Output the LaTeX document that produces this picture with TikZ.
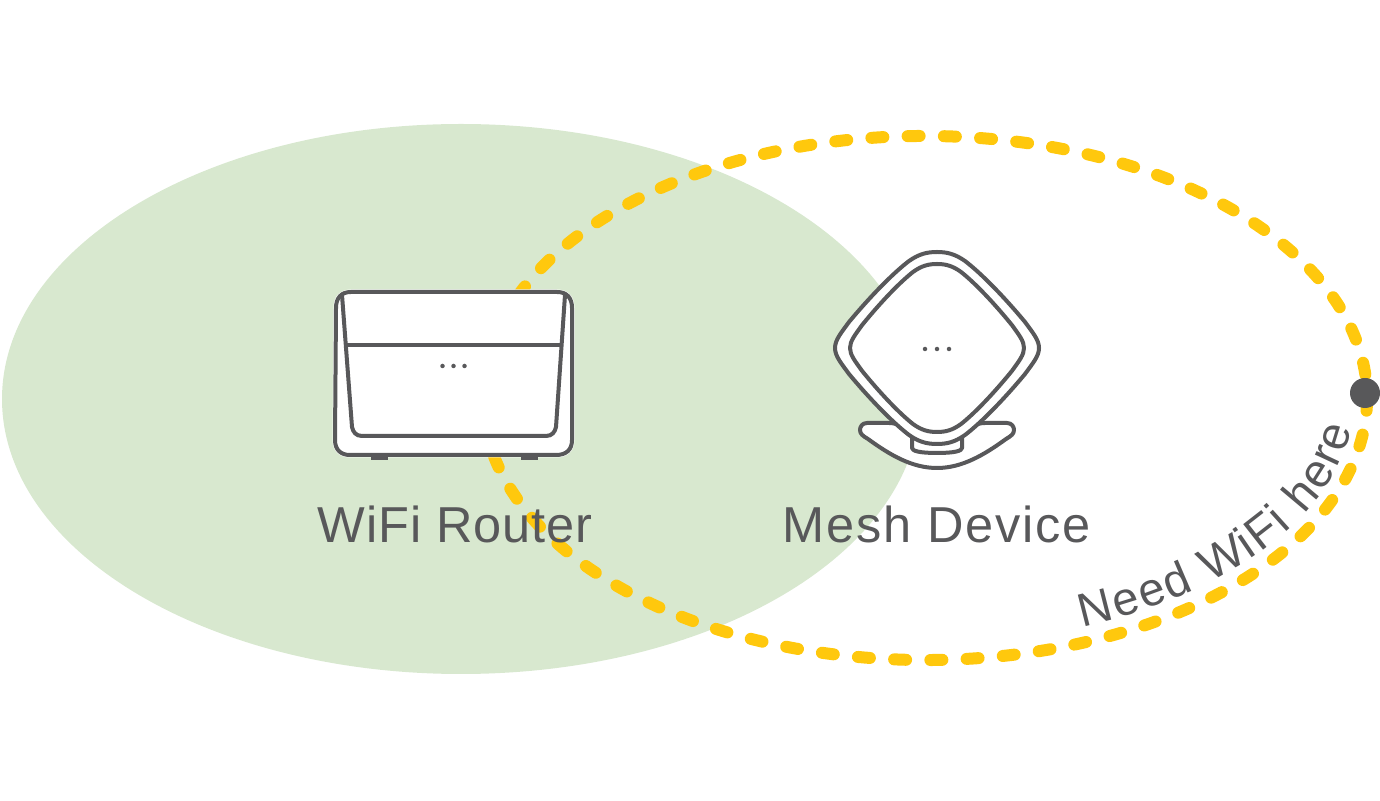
\documentclass[tikz,border=0pt]{standalone}
\usepackage{fontspec}
\setmainfont{Liberation Sans}
\newfontfamily\routerfont[LetterSpace=1.8]{Liberation Sans}
\newfontfamily\meshfont[LetterSpace=3.6]{Liberation Sans}
\usetikzlibrary{decorations.text}
\definecolor{inkgray}{HTML}{58585A}
\definecolor{cover}{HTML}{D8E8CF}
\definecolor{wifiyellow}{HTML}{FFC80D}
\tikzset{
  devline/.style={draw=inkgray,line width=4pt,line join=round,line cap=round},
  devbody/.style={devline,fill=white},
  devdot/.style={circle,fill=inkgray,inner sep=0pt,minimum size=4.5pt},
  devlabel/.style={text=inkgray,inner sep=0pt},
}
\newcommand{\meshcorner}{(0,96) .. controls (10,96) and (18,94) .. (28,87)
  .. controls (45,74) and (68,50) .. (88,26) .. controls (96,15) and (102,8) .. (102,0)
  .. controls (102,-8) and (96,-15) .. (88,-26) .. controls (68,-50) and (45,-74) .. (28,-87)
  .. controls (18,-94) and (10,-96) .. (0,-96)
  .. controls (-10,-96) and (-18,-94) .. (-28,-87)
  .. controls (-45,-74) and (-68,-50) .. (-88,-26) .. controls (-96,-15) and (-102,-8) .. (-102,0)
  .. controls (-102,8) and (-96,15) .. (-88,26) .. controls (-68,50) and (-45,74) .. (-28,87)
  .. controls (-18,94) and (-10,96) .. (0,96) -- cycle}
\begin{document}
\begin{tikzpicture}[x=1pt,y=1pt]
  \useasboundingbox (0,0) rectangle (1380,800);
  % coverage and the dashed range
  \fill[cover] (461,401) ellipse [x radius=459,y radius=275];
  \draw[wifiyellow,line width=12pt,line cap=round,dash pattern=on 12pt off 24.26pt]
    (925,402) ++(-10.6:442 and 262)
    arc [start angle=-10.6,end angle=349.4,x radius=442,y radius=262];
  % router
  \draw[devbody,preaction={draw=white,line width=5pt}] (351,508) -- (557,508)
    .. controls (567,508) and (572,502) .. (572,492)
    -- (572,360) .. controls (572,350) and (566,345) .. (556,345)
    -- (350,345) .. controls (341,345) and (335,350) .. (335,360)
    -- (336,492) .. controls (336,502) and (341,508) .. (351,508) -- cycle;
  \fill[inkgray] (371,344) rectangle (388,340);
  \fill[inkgray] (521,344) rectangle (538,340);
  \draw[devline] (342,505) -- (352,373) .. controls (353,368) and (356,364) .. (362,364)
    -- (546,364) .. controls (552,364) and (555,368) .. (556,373) -- (565,505);
  \draw[devline] (346,455) -- (561,455);
  \foreach \x/\n in {442.5/a,453.5/b,464.5/c}
    \node[devdot] (router\n) at (\x,434) {};
  % mesh device
  \draw[devbody] (867,377) .. controls (862,377) and (860,373) .. (860,370)
    .. controls (860,366) and (863,364) .. (868,361)
    .. controls (890,345) and (912,332) .. (937,332)
    .. controls (962,332) and (984,345) .. (1006,361)
    .. controls (1011,364) and (1014,366) .. (1014,370)
    .. controls (1014,373) and (1012,377) .. (1007,377)
    -- (985,377) .. controls (975,377) and (970,372) .. (960,364)
    -- (914,364) .. controls (904,372) and (899,377) .. (889,377) -- cycle;
  \draw[devline] (912,362) -- (912,352) .. controls (912,349) and (920,347) .. (937,347)
    .. controls (954,347) and (962,349) .. (962,352) -- (962,362);
  \begin{scope}[shift={(937,452)}]
    \draw[devbody] \meshcorner;
    \begin{scope}[xscale=0.853,yscale=0.875]
      \draw[devbody] \meshcorner;
    \end{scope}
  \end{scope}
  \foreach \x/\n in {925/a,937/b,949/c}
    \node[devdot] (mesh\n) at (\x,451) {};
  % labels
  \node[devlabel,font=\routerfont\fontsize{50.5}{60}\selectfont] (routerlabel) at (455,276) {WiFi Router};
  \node[devlabel,font=\meshfont\fontsize{50.5}{60}\selectfont] (meshlabel) at (937,276) {Mesh Device};
  \path[decorate,decoration={text along path,text color=inkgray,text align=fit to path,
      text={|\fontsize{47}{56}\selectfont|Need WiFi here}}]
    (925,402) ++(-68.5:430 and 246)
    arc [start angle=-68.5,end angle=-7,x radius=430,y radius=246];
  \node[circle,fill=inkgray,inner sep=0pt,minimum size=30pt] (signal) at (1365,407) {};
\end{tikzpicture}
\end{document}
